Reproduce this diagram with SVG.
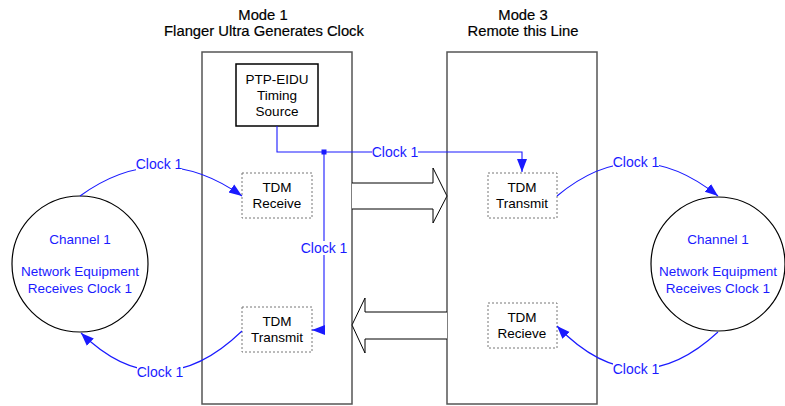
<svg xmlns="http://www.w3.org/2000/svg" width="785" height="406" viewBox="0 0 785 406">
<defs>
<style>
text{font-family:"Liberation Sans",Arial,sans-serif;text-anchor:middle}
.title{font-size:14.8px;fill:#000;stroke:#000;stroke-width:0.2}
.big{fill:#fff;stroke:#555;stroke-width:1.5}
.ptp{fill:#fff;stroke:#000;stroke-width:1.5}
.tdm{fill:#fff;stroke:#777;stroke-width:1;stroke-dasharray:2,2}
.lbl{font-size:13.5px;fill:#000}
.blue{font-size:13.5px;fill:#1a1aff}
.clk{font-size:14px;fill:#1a1aff}
.bg{fill:#fff}
.conn{fill:none;stroke:#1a1aff;stroke-width:1.1}
.circ{fill:#fff;stroke:#000;stroke-width:1.2}
.fat{fill:#fff;stroke:#000;stroke-width:1}
</style>
<marker id="ah" markerUnits="userSpaceOnUse" markerWidth="14" markerHeight="12" viewBox="0 0 14 12" refX="13" refY="6" orient="auto">
<path d="M0,1 L13,6 L0,11 Z" fill="#1a1aff"/>
</marker>
</defs>
<rect width="785" height="406" fill="#fff"/>
<g id="title1">
<text class="title" x="263" y="20">Mode 1</text>
<text class="title" x="264" y="36">Flanger Ultra Generates Clock</text>
</g>
<g id="title3">
<text class="title" x="523" y="20">Mode 3</text>
<text class="title" x="523" y="36">Remote this Line</text>
</g>
<g id="mode1">
<rect class="big" x="202" y="52" width="150" height="352"/>
</g>
<g id="mode3">
<rect class="big" x="447" y="52" width="150" height="352"/>
</g>
<g id="ptp">
<rect class="ptp" x="236" y="64" width="82" height="62"/>
<text class="lbl" x="277" y="84">PTP-EIDU</text>
<text class="lbl" x="277" y="100">Timing</text>
<text class="lbl" x="277" y="116">Source</text>
</g>
<g id="tdm-receive-left">
<rect class="tdm" x="242" y="173" width="70" height="45"/>
<text class="lbl" x="277" y="192">TDM</text>
<text class="lbl" x="277" y="208">Receive</text>
</g>
<g id="tdm-transmit-left">
<rect class="tdm" x="242" y="307" width="70" height="45"/>
<text class="lbl" x="277" y="326">TDM</text>
<text class="lbl" x="277" y="342">Transmit</text>
</g>
<g id="tdm-transmit-right">
<rect class="tdm" x="488" y="173" width="69" height="45"/>
<text class="lbl" x="522" y="192">TDM</text>
<text class="lbl" x="522" y="208">Transmit</text>
</g>
<g id="tdm-recieve-right">
<rect class="tdm" x="488" y="303" width="69" height="45"/>
<text class="lbl" x="522" y="322">TDM</text>
<text class="lbl" x="522" y="338">Recieve</text>
</g>
<g id="channel-left">
<circle class="circ" cx="80" cy="264" r="68"/>
<text class="blue" x="80" y="244">Channel 1</text>
<text class="blue" x="80" y="276">Network Equipment</text>
<text class="blue" x="80" y="293">Receives Clock 1</text>
</g>
<g id="channel-right">
<circle class="circ" cx="718" cy="264" r="67"/>
<text class="blue" x="718" y="244">Channel 1</text>
<text class="blue" x="718" y="276">Network Equipment</text>
<text class="blue" x="718" y="293">Receives Clock 1</text>
</g>
<g id="connectors">
<path class="fat" d="M352,183 H433 V168 L447,196 L433,223 V209 H352"/>
<path class="fat" d="M447,312 H365 V298 L352,325 L365,353 V339 H447"/>
<path class="conn" d="M277,126 V152 H522 V172" marker-end="url(#ah)"/>
<path class="conn" d="M324,152 V330 H312" marker-end="url(#ah)"/>
<rect x="321.5" y="149.5" width="5" height="5" fill="#1a1aff"/>
<path class="conn" d="M80,196 Q160,138 242,196" marker-end="url(#ah)"/>
<path class="conn" d="M242,331 Q160,410 81,333" marker-end="url(#ah)"/>
<path class="conn" d="M557,196 Q636,130 718,196" marker-end="url(#ah)"/>
<path class="conn" d="M718,332 Q636,408 557,326" marker-end="url(#ah)"/>
<rect class="bg" x="136" y="157" width="46" height="14"/>
<rect class="bg" x="137" y="365" width="46" height="14"/>
<rect class="bg" x="301" y="241" width="46" height="14"/>
<rect class="bg" x="372" y="145" width="46" height="14"/>
<rect class="bg" x="613" y="155" width="46" height="14"/>
<rect class="bg" x="613" y="362" width="46" height="14"/>
<text class="clk" x="159" y="169">Clock 1</text>
<text class="clk" x="160" y="377">Clock 1</text>
<text class="clk" x="324" y="253">Clock 1</text>
<text class="clk" x="395" y="157">Clock 1</text>
<text class="clk" x="636" y="167">Clock 1</text>
<text class="clk" x="636" y="374">Clock 1</text>
</g>
</svg>
